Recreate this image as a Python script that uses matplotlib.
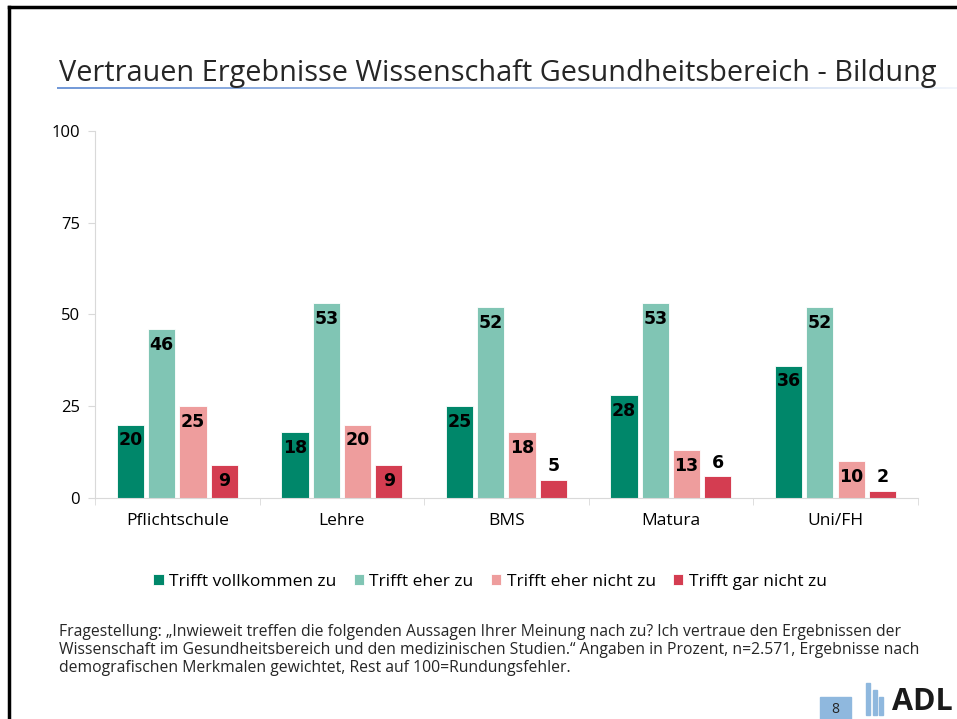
import matplotlib.pyplot as plt
import numpy as np
from matplotlib.lines import Line2D
from matplotlib.patches import Rectangle

plt.rcParams['font.family'] = ['Open Sans', 'DejaVu Sans']

categories = ['Pflichtschule', 'Lehre', 'BMS', 'Matura', 'Uni/FH']
series_names = ['Trifft vollkommen zu', 'Trifft eher zu', 'Trifft eher nicht zu', 'Trifft gar nicht zu']
vollkommen = [20, 18, 25, 28, 36]
eher = [46, 53, 52, 53, 52]
eher_nicht = [25, 20, 18, 13, 10]
gar_nicht = [9, 9, 5, 6, 2]
colors = ['#00876a', '#80c5b4', '#ee9d9d', '#d43d51']

fig = plt.figure(figsize=(9.57, 7.19), dpi=100)
ax = fig.add_axes([0.0993, 0.3074, 0.8597, 0.5104])

x = np.arange(len(categories))
width = 0.165
step = 0.19
offsets = (np.arange(4) - 1.5) * step
for i, vals in enumerate([vollkommen, eher, eher_nicht, gar_nicht]):
    bars = ax.bar(x + offsets[i], vals, width, color=colors[i], label=series_names[i],
                  edgecolor='white', linewidth=0.6)
    for b, v in zip(bars, vals):
        cx = b.get_x() + b.get_width() / 2
        if v >= 9:
            ax.text(cx, v - 1.8, str(v), ha='center', va='top', fontsize=12.5,
                    fontweight='bold', color='black', family='DejaVu Sans')
        else:
            ax.text(cx, v + 1.2, str(v), ha='center', va='bottom', fontsize=12.5,
                    fontweight='bold', color='black', family='DejaVu Sans')

ax.set_xlim(-0.5, len(categories) - 0.5)
ax.set_ylim(0, 100)
ax.set_yticks([0, 25, 50, 75, 100])
ax.tick_params(axis='y', labelsize=12, length=5, color='#d9d9d9', pad=6)
ax.set_xticks(x)
ax.set_xticklabels(categories, fontsize=12.5)
ax.set_xticks(np.arange(len(categories) + 1) - 0.5, minor=True)
ax.tick_params(axis='x', which='major', length=0, pad=11)
ax.tick_params(axis='x', which='minor', length=5, color='#d9d9d9')
for s in ['top', 'right']:
    ax.spines[s].set_visible(False)
ax.spines['left'].set_color('#d9d9d9')
ax.spines['bottom'].set_color('#d9d9d9')

leg = fig.legend(loc='center', bbox_to_anchor=(0.512, 0.191), ncol=4, frameon=False,
                 fontsize=12.5, handlelength=0.6, handleheight=0.6, handletextpad=0.3,
                 columnspacing=1.0)

# title and underline
fig.text(0.062, 0.898, 'Vertrauen Ergebnisse Wissenschaft Gesundheitsbereich - Bildung',
         fontsize=20.8, color='#262626', va='center', fontweight='medium')
grad = np.linspace(0, 1, 256).reshape(1, -1)
gax = fig.add_axes([0.06, 0.876, 0.94, 0.003])
gax.imshow(np.dstack([np.full((1, 256), 0.45), np.full((1, 256), 0.6), np.full((1, 256), 0.85),
                      1 - grad * 0.9]), aspect='auto')
gax.axis('off')

note = ('Fragestellung: \u201eInwieweit treffen die folgenden Aussagen Ihrer Meinung nach zu? Ich vertraue den Ergebnissen der\n'
        'Wissenschaft im Gesundheitsbereich und den medizinischen Studien.\u201c Angaben in Prozent, n=2.571, Ergebnisse nach\n'
        'demografischen Merkmalen gewichtet, Rest auf 100=Rundungsfehler.')
fig.text(0.062, 0.096, note, fontsize=11.3, color='#262626', va='center', linespacing=1.15)

# page number box and logo
fig.patches.append(Rectangle((0.857, 0.0), 0.032, 0.03, transform=fig.transFigure,
                             color='#8fb8de'))
fig.text(0.873, 0.013, '8', fontsize=10, ha='center', va='center', color='#262626')
for bx, bh in [(0.905, 0.045), (0.912, 0.035), (0.919, 0.025)]:
    fig.patches.append(Rectangle((bx, 0.005), 0.004, bh, transform=fig.transFigure,
                                 color='#8fb8de'))
fig.text(0.932, 0.024, 'ADL', fontsize=22, fontweight='bold', color='#1a1a1a', va='center')

# slide frame
fig.add_artist(Line2D([0.009, 0.009], [0.0, 0.99], transform=fig.transFigure,
                      color='black', linewidth=2.5))
fig.add_artist(Line2D([0.009, 1.0], [0.99, 0.99], transform=fig.transFigure,
                      color='black', linewidth=2.5))

fig.savefig('out.png', dpi=100)
